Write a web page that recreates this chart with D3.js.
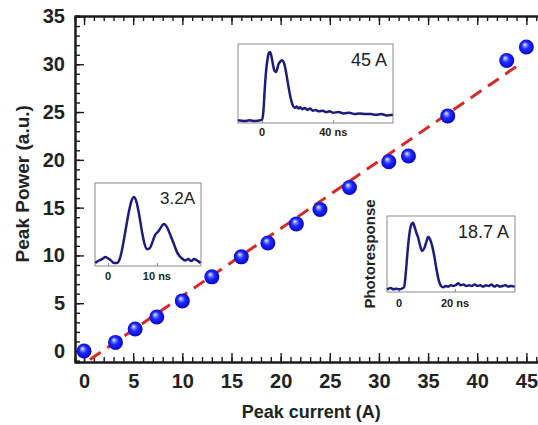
<!DOCTYPE html>
<html><head><meta charset="utf-8">
<script src="https://cdn.jsdelivr.net/npm/d3@7"></script>
<style>
html,body{margin:0;padding:0;background:#fff;}
svg{display:block;font-family:"Liberation Sans",Arial,sans-serif;}
</style></head><body>
<svg id="c" width="538" height="425"></svg>
<script>
// ---- main data ----
const currents = [0, 3.2, 5.2, 7.4, 10, 13, 16, 18.7, 21.6, 24, 27, 31, 33, 37, 43, 45];
const powers   = [0, 0.9, 2.3, 3.56, 5.24, 7.76, 9.85, 11.3, 13.3, 14.8, 17.1, 19.8, 20.4, 24.6, 30.4, 31.8];
const fitX = [0.6, 44.6];
const fitY = [-0.9, 30.2];
const xTicks = [0, 5, 10, 15, 20, 25, 30, 35, 40, 45];
const yTicks = [0, 5, 10, 15, 20, 25, 30, 35];

// ---- inset waveforms ----
const pulseA_t = [-2.6,-2,-1.2,-0.5,0,0.6,1.2,1.8,2.4,3.0,3.6,4.2,4.8,5.3,5.8,6.4,7.0,7.5,8.0,8.5,9.0,9.6,10.3,11.0,11.4,12.0,12.7,13.4,14.2,15.1,15.8,16.4,17.0,17.6,18.2,18.9];
const pulseA_v = [0,0.03,0.06,0.09,0.07,0.04,0,0,0.06,0.25,0.5,0.75,0.94,1.0,0.93,0.72,0.45,0.28,0.21,0.22,0.3,0.42,0.48,0.56,0.59,0.55,0.43,0.3,0.15,0.07,0.04,0.06,0.03,0.06,0.04,0.0];
const pulseB_t = [-13.5,-10,-7,-4,-1,0,0.8,1.5,2.2,3.0,3.8,4.5,5.2,6.0,6.8,7.6,8.4,9.2,10.2,11.2,12.2,13.2,14.2,15.2,16.2,17.4,18.5,19.5,20.5,21.5,22.5,24,25.5,27,28.5,30,32,34,36,38,40,43,46,49,52,55,58,61,64,67,70,73.5];
const pulseB_v = [0.01,0,0.01,0,0.01,0.02,0.15,0.45,0.7,0.88,0.98,1.0,0.95,0.84,0.74,0.71,0.74,0.82,0.86,0.88,0.85,0.75,0.6,0.45,0.32,0.22,0.19,0.21,0.18,0.2,0.17,0.19,0.16,0.18,0.15,0.16,0.14,0.15,0.13,0.14,0.12,0.13,0.11,0.12,0.1,0.11,0.1,0.1,0.09,0.1,0.08,0.09];
const pulseC_t = [-4.3,-3,-2,-1,0,1,1.8,2.4,3.0,3.6,4.2,5.0,5.6,6.2,6.8,7.4,8.2,9.0,9.8,10.4,11.0,11.8,12.6,13.4,14.2,15.0,15.8,16.6,17.5,18.5,19.5,20.5,21.2,22,23,24,25,26,27,28,29,30,31,32,33,34,35,36,37,38,39,40,41.3];
const pulseC_v = [0.01,0.03,0.01,0.02,0.01,0.02,0.04,0.25,0.55,0.8,0.95,1.0,0.93,0.85,0.78,0.68,0.58,0.62,0.72,0.79,0.76,0.66,0.5,0.3,0.14,0.06,0.04,0.06,0.05,0.07,0.06,0.08,0.1,0.07,0.08,0.06,0.07,0.06,0.08,0.06,0.07,0.05,0.07,0.06,0.08,0.05,0.07,0.05,0.06,0.07,0.05,0.06,0.05];

const insetLabels = ["3.2A", "45 A", "18.7 A"];
const insetTickA = [0, 10];
const insetTickB = [0, 40];
const insetTickC = [0, 20];

// ---- layout ----
const svg = d3.select("#c");
const L = 75, B = 362, T = 16;
const x = d3.scaleLinear().domain([-0.92, 47]).range([L, L + 47.92 * 9.83]);
const y = d3.scaleLinear().domain([-1.15, 35.05]).range([B, T]);

const axCol = "#1a1a1a";
const defs = svg.append("defs");
const grad = defs.append("radialGradient").attr("id","sph").attr("cx","50%").attr("cy","50%").attr("r","55%").attr("fx","38%").attr("fy","32%");
grad.append("stop").attr("offset","0%").attr("stop-color","#ffffff");
grad.append("stop").attr("offset","18%").attr("stop-color","#8c96ff");
grad.append("stop").attr("offset","45%").attr("stop-color","#1f2cff");
grad.append("stop").attr("offset","85%").attr("stop-color","#0a0ad8");
grad.append("stop").attr("offset","100%").attr("stop-color","#05058a");

// minor ticks
const minorX = d3.range(0, 47, 1);
const minorY = d3.range(-1, 36, 1);
function styleAxis(g){
  g.select(".domain").attr("stroke", axCol).attr("stroke-width", 2);
  g.selectAll(".tick line").attr("stroke", axCol).attr("stroke-width", 1.4);
}
// bottom
svg.append("g").attr("transform",`translate(0,${B})`)
  .call(d3.axisBottom(x).tickValues(minorX).tickSize(-5).tickFormat(""))
  .call(styleAxis);
svg.append("g").attr("transform",`translate(0,${B})`)
  .call(d3.axisBottom(x).tickValues(xTicks).tickSizeInner(-9).tickSizeOuter(0).tickPadding(12).tickFormat(d3.format("d")))
  .call(styleAxis)
  .call(g=>g.selectAll("text").attr("font-size",20).attr("font-weight","bold").attr("fill","#222"));
// top
svg.append("g").attr("transform",`translate(0,${T})`)
  .call(d3.axisTop(x).tickValues(minorX).tickSize(-5).tickFormat(""))
  .call(styleAxis);
svg.append("g").attr("transform",`translate(0,${T})`)
  .call(d3.axisTop(x).tickValues(xTicks).tickSizeInner(-9).tickSizeOuter(0).tickFormat(""))
  .call(styleAxis);
// left
svg.append("g").attr("transform",`translate(${L},0)`)
  .call(d3.axisLeft(y).tickValues(minorY).tickSize(-5).tickFormat(""))
  .call(styleAxis);
svg.append("g").attr("transform",`translate(${L},0)`)
  .call(d3.axisLeft(y).tickValues(yTicks).tickSizeInner(-9).tickSizeOuter(0).tickPadding(10).tickFormat(d3.format("d")))
  .call(styleAxis)
  .call(g=>g.selectAll("text").attr("font-size",20).attr("font-weight","bold").attr("fill","#222"));

// axis titles
svg.append("text").attr("x", (x(0)+x(45))/2 + 6).attr("y", 418).attr("text-anchor","middle")
  .attr("font-size",18).attr("font-weight","bold").attr("fill","#222").text("Peak current (A)");
svg.append("text").attr("transform",`translate(29,${(y(0)+y(35))/2}) rotate(-90)`).attr("text-anchor","middle")
  .attr("font-size",19).attr("font-weight","bold").attr("fill","#222").text("Peak Power (a.u.)");

// fit line
svg.append("line")
  .attr("x1", x(fitX[0])).attr("y1", y(fitY[0])).attr("x2", x(fitX[1])).attr("y2", y(fitY[1]))
  .attr("stroke","#d42a2a").attr("stroke-width",3).attr("stroke-dasharray","13,8");

// points
svg.append("g").selectAll("circle").data(currents).join("circle")
  .attr("cx", d=>x(d)).attr("cy", (d,i)=>y(powers[i])).attr("r", 7.5)
  .attr("fill","url(#sph)");

// ---- insets ----
function inset(box, tdom, vdom, ts, vs, label, labelFont, tickVals, tickFmt, tickY){
  const g = svg.append("g");
  const ix = d3.scaleLinear().domain(tdom).range([box.x0, box.x1]);
  const iy = d3.scaleLinear().domain(vdom).range([box.y1, box.y0]);
  g.append("rect").attr("x",box.x0).attr("y",box.y0).attr("width",box.x1-box.x0).attr("height",box.y1-box.y0)
    .attr("fill","#fff").attr("stroke","#8a8a8a").attr("stroke-width",1);
  g.append("g").attr("transform",`translate(0,${box.y1})`)
    .call(d3.axisBottom(ix).tickValues(tickVals).tickSize(-3).tickFormat(""))
    .call(a=>{a.select(".domain").remove(); a.selectAll(".tick line").attr("stroke","#8a8a8a");});
  const line = d3.line().x((d,i)=>ix(ts[i])).y(d=>iy(d)).curve(d3.curveMonotoneX);
  g.append("path").datum(vs).attr("d",line).attr("fill","none").attr("stroke","#1c1c7c").attr("stroke-width",2.5).attr("stroke-linejoin","round");
  g.append("text").attr("x",box.x1-6).attr("y",box.y0+ (labelFont+4)).attr("text-anchor","end")
    .attr("font-size",labelFont).attr("fill","#222").text(label);
  g.selectAll(".tl").data(tickVals).join("text").attr("class","tl")
    .attr("x",d=>ix(d)).attr("y",tickY).attr("text-anchor","middle")
    .attr("font-size",11).attr("font-weight","bold").attr("fill","#222")
    .text((d,i)=>tickFmt[i]);
}
inset({x0:95,x1:201,y0:183,y1:266}, [-2.65,19], [-0.045,1.21], pulseA_t, pulseA_v, insetLabels[0], 17, insetTickA, ["0","10 ns"], 280);
inset({x0:238,x1:393,y0:44,y1:123}, [-13.5,73.6], [-0.029,1.116], pulseB_t, pulseB_v, insetLabels[1], 18, insetTickB, ["0","40 ns"], 136);
inset({x0:387,x1:515,y0:216,y1:292}, [-4.3,41.4], [-0.03,1.1], pulseC_t, pulseC_v, insetLabels[2], 18, insetTickC, ["0","20 ns"], 307);

svg.append("text").attr("transform","translate(375,254) rotate(-90)").attr("text-anchor","middle")
  .attr("font-size",15).attr("font-weight","bold").attr("fill","#222").text("Photoresponse");
</script>
</body></html>
